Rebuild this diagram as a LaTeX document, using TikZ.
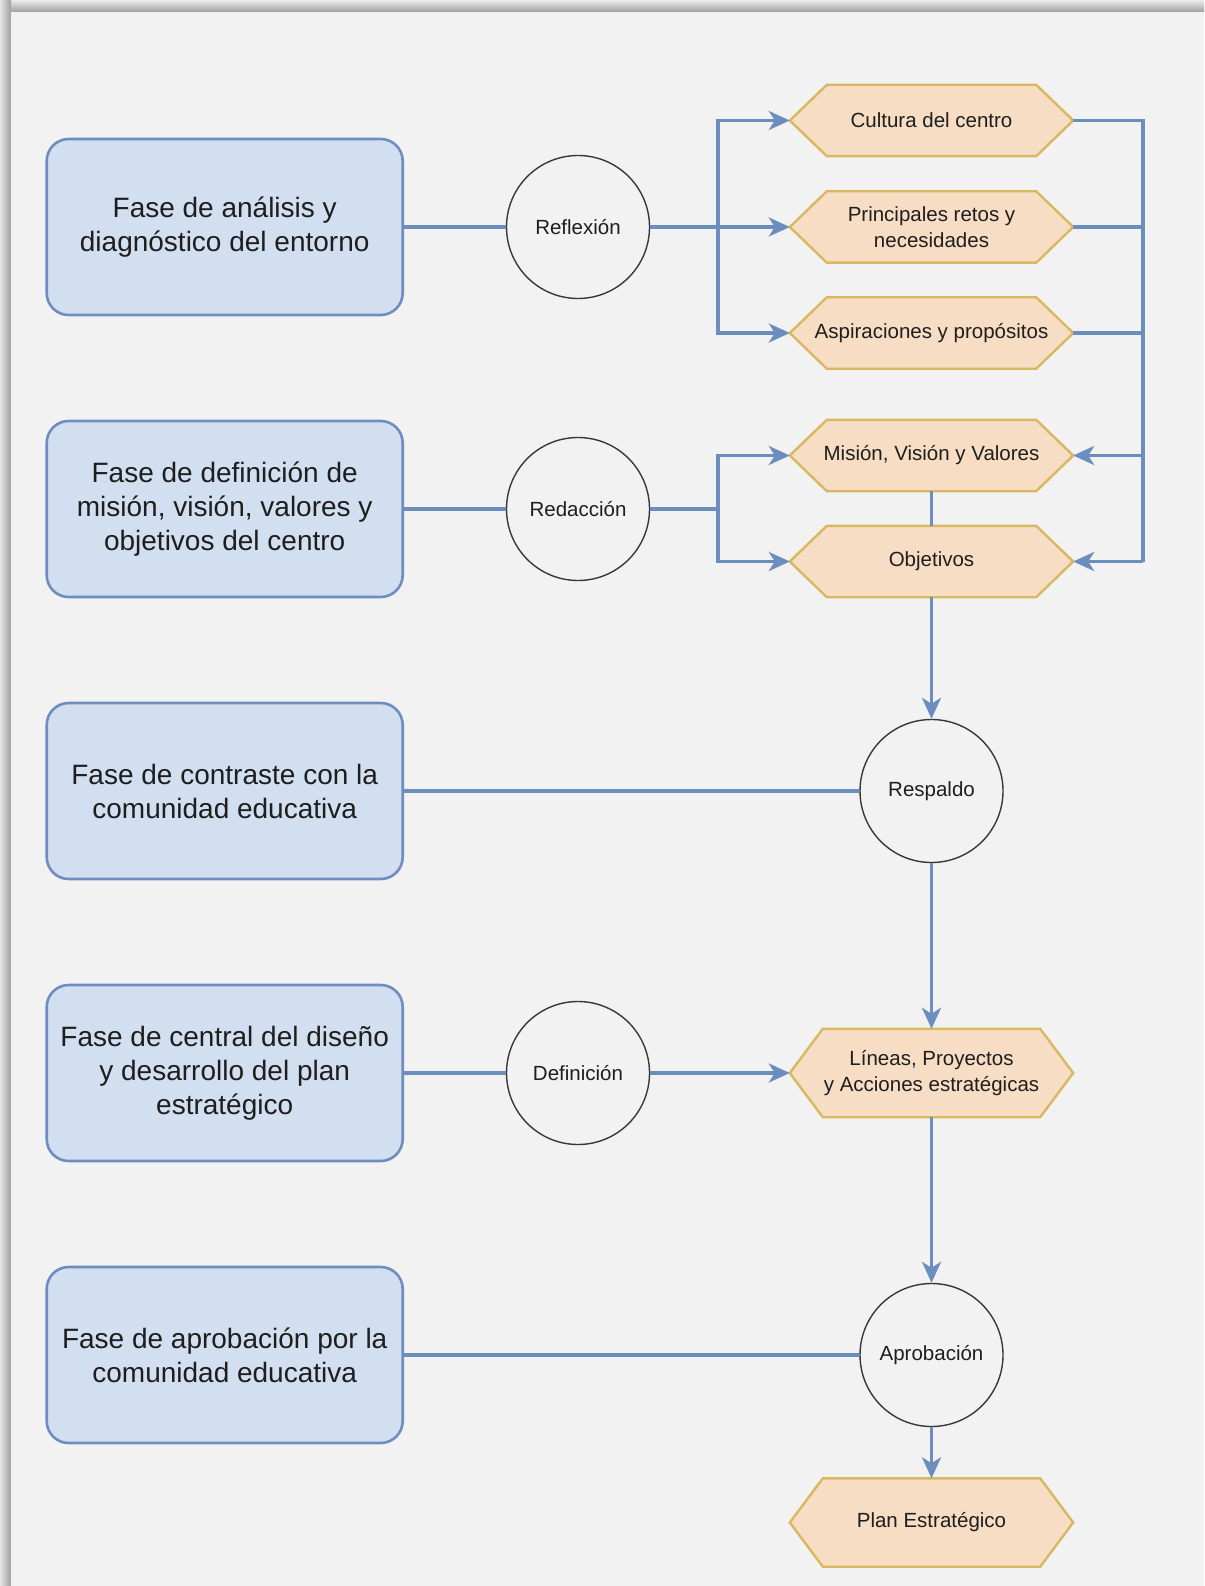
\documentclass[tikz,border=0pt]{standalone}
\usepackage{fontspec}
\setmainfont{Liberation Sans}
\usetikzlibrary{arrows.meta,calc}
\definecolor{cardbg}{HTML}{F2F2F2}
\definecolor{bluefill}{HTML}{D2DFF0}
\definecolor{bluedraw}{HTML}{6F8DC0}
\definecolor{hexfill}{HTML}{F7DDC4}
\definecolor{hexdraw}{HTML}{D8B860}
\definecolor{linec}{HTML}{6C8EBF}
\definecolor{txt}{HTML}{1E1E1E}
\pgfdeclarelayer{bg}
\pgfsetlayers{bg,main}
\newcommand{\hexshape}[2]{%
  \begin{pgfonlayer}{bg}
  \draw[hexborder] ([xshift=#2pt]#1.north west) -- ([xshift=-#2pt]#1.north east) -- (#1.east) -- ([xshift=-#2pt]#1.south east) -- ([xshift=#2pt]#1.south west) -- (#1.west) -- cycle;
  \end{pgfonlayer}}
\tikzset{
  phase/.style={draw=bluedraw, fill=bluefill, line width=2.6pt, rounded corners=22pt,
    minimum width=356pt, minimum height=176pt, align=center,
    font=\fontsize{28}{34}\selectfont, text=txt, inner sep=0pt},
  act/.style={circle, draw=black!78, fill=cardbg, line width=1.4pt, minimum size=143pt,
    inner sep=0pt, font=\fontsize{20.5}{25}\selectfont, text=txt},
  res/.style={rectangle, minimum width=283pt, minimum height=71pt, inner sep=0pt,
    align=center, font=\fontsize{20.5}{26.5}\selectfont, text=txt},
  restall/.style={res, minimum height=88pt},
  hexborder/.style={draw=hexdraw, fill=hexfill, line width=2.4pt},
  conn/.style={draw=linec, line width=3.4pt},
  arr/.style={conn, -{Stealth[length=21pt, width=19pt, inset=6pt]}}
}
\begin{document}
\begin{tikzpicture}[x=1pt,y=-1pt]
\useasboundingbox (0,0) rectangle (1204,1586);
% frame
\begin{pgfonlayer}{bg}
\fill[white] (0,0) rectangle (1204,1586);
\shade[top color=gray!15, bottom color=gray!75] (0,0) rectangle (1204,12);
\shade[left color=gray!20, right color=gray!75] (0,0) rectangle (11,1586);
\fill[cardbg] (11,12) rectangle (1204,1586);
\end{pgfonlayer}

% phase boxes
\node[phase] (b1) at (224.7,227) {Fase de análisis y\\diagnóstico del entorno};
\node[phase] (b2) at (224.7,509) {Fase de definición de\\misión, visión, valores y\\objetivos del centro};
\node[phase] (b3) at (224.7,791) {Fase de contraste con la\\comunidad educativa};
\node[phase] (b4) at (224.7,1073) {Fase de central del diseño\\y desarrollo del plan\\estratégico};
\node[phase] (b5) at (224.7,1355) {Fase de aprobación por la\\comunidad educativa};

% activity circles
\node[act] (refl) at (578,227) {Reflexión};
\node[act] (redac) at (578,509) {Redacción};
\node[act] (defi) at (578,1073) {Definición};
\node[act] (resp) at (931.5,791) {Respaldo};
\node[act] (apro) at (931.5,1355) {Aprobación};

% results
\node[res] (cult) at (931.5,120.5) {Cultura del centro};
\node[res] (princ) at (931.5,227) {Principales retos y\\necesidades};
\node[res] (asp) at (931.5,333) {Aspiraciones y propósitos};
\node[res] (mis) at (931.5,455.5) {Misión, Visión y Valores};
\node[res] (obj) at (931.5,561.5) {Objetivos};
\node[restall] (lin) at (931.5,1073) {Líneas, Proyectos\\y Acciones estratégicas};
\node[restall] (plan) at (931.5,1522.5) {Plan Estratégico};
\hexshape{cult}{37}
\hexshape{princ}{37}
\hexshape{asp}{37}
\hexshape{mis}{37}
\hexshape{obj}{37}
\hexshape{lin}{33}
\hexshape{plan}{33}

% junctions
\coordinate (j1) at (718,227);
\coordinate (j2) at (718,509);
\coordinate (rtop) at (1143,120.5);
\coordinate (rbot) at (1143,561.5);

% connectors
\draw[conn] (b1) -- (refl);
\draw[arr] (refl) -- (princ);
\draw[arr] (j1) |- (cult);
\draw[arr] (j1) |- (asp);

\draw[conn] (cult.east) -- (rtop) -- (rbot);
\draw[conn] (princ.east) -- (princ.east -| rtop);
\draw[conn] (asp.east) -- (asp.east -| rtop);
\draw[arr] (mis.east -| rtop) -- (mis.east);
\draw[arr] (rbot) -- (obj.east);

\draw[conn] (b2) -- (redac);
\draw[conn] (redac) -- (j2);
\draw[arr] (j2) |- (mis);
\draw[arr] (j2) |- (obj);

\draw[conn] (mis) -- (obj);
\draw[arr] (obj) -- (resp);
\draw[conn] (b3) -- (resp);
\draw[arr] (resp) -- (lin);
\draw[conn] (b4) -- (defi);
\draw[arr] (defi) -- (lin);
\draw[arr] (lin) -- (apro);
\draw[conn] (b5) -- (apro);
\draw[arr] (apro) -- (plan);
\end{tikzpicture}
\end{document}
